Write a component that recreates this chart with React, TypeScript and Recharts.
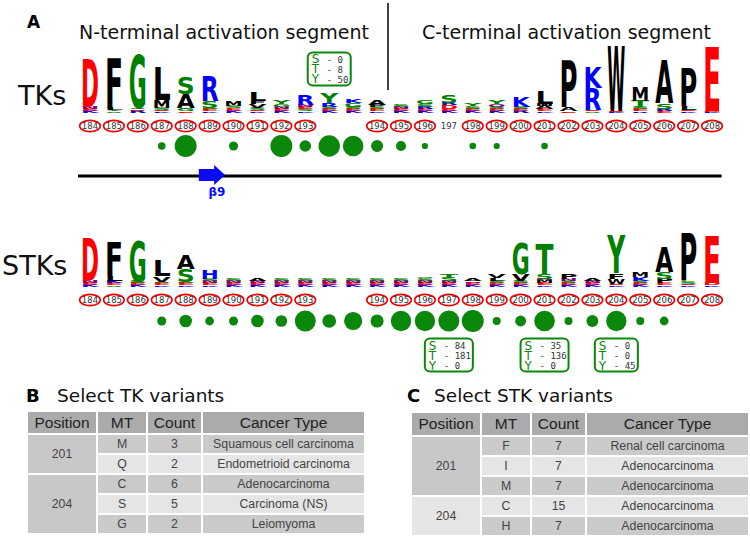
import React from "react";
import {
    Bar,
    ComposedChart,
    ReferenceArea,
    ReferenceDot,
    Scatter,
    ScatterChart,
    XAxis,
    YAxis,
    ZAxis
} from "recharts";

// alignment columns (two insertion columns sit between 193 and 194)
const positions = ["184", "185", "186", "187", "188", "189", "190", "191", "192", "193", "ins1", "ins2",
    "194", "195", "196", "197", "198", "199", "200", "201", "202", "203", "204", "205", "206", "207", "208"];

// logo stacks, bottom -> top, heights in bits
const tkLogo: [string, number][][] = [
    [["K", .12], ["E", .12], ["N", .12], ["D", 3.0]],
    [["S", .1], ["Y", .1], ["L", .12], ["F", 3.05]],
    [["R", .12], ["E", .1], ["S", .1], ["G", 3.25]],
    [["K", .1], ["E", .1], ["S", .12], ["M", .5], ["L", 2.0]],
    [["E", .1], ["G", .12], ["Y", .1], ["A", .85], ["S", 1.0]],
    [["K", .1], ["E", .12], ["G", .1], ["S", .4], ["R", 1.55]],
    [["K", .15], ["E", .15], ["S", .12], ["M", .3]],
    [["K", .1], ["E", .1], ["S", .12], ["V", .25], ["F", .15], ["L", .55]],
    [["K", .12], ["E", .15], ["N", .12], ["G", .15], ["Y", .2]],
    [["K", .1], ["S", .12], ["E", .12], ["N", .15], ["R", .65]],
    [["K", .12], ["E", .15], ["S", .12], ["R", .2], ["Y", .65]],
    [["K", .12], ["E", .15], ["S", .12], ["G", .2], ["K", .25]],
    [["K", .1], ["E", .12], ["S", .12], ["P", .15], ["A", .3]],
    [["K", .12], ["E", .12], ["N", .15], ["S", .12]],
    [["K", .12], ["E", .12], ["R", .15], ["S", .15], ["G", .25]],
    [["K", .12], ["E", .12], ["D", .25], ["R", .12], ["S", .45]],
    [["K", .12], ["E", .15], ["S", .15], ["Y", .12]],
    [["K", .12], ["E", .12], ["S", .15], ["Q", .15], ["Y", .25]],
    [["R", .12], ["E", .12], ["S", .15], ["K", .65]],
    [["K", .1], ["E", .12], ["A", .2], ["M", .15], ["L", .8]],
    [["E", .1], ["A", .25], ["P", 2.9]],
    [["S", .1], ["E", .1], ["R", 1.35], ["K", 1.25]],
    [["K", .05], ["E", .05], ["W", 4.0]],
    [["R", .1], ["E", .12], ["S", .15], ["T", .4], ["M", .9]],
    [["E", .12], ["R", .15], ["S", .35], ["A", 2.6]],
    [["K", .1], ["E", .1], ["L", .25], ["P", 2.3]],
    [["K", .05], ["D", .1], ["E", 3.95]],
];

const stkLogo: [string, number][][] = [
    [["K", .12], ["E", .12], ["N", .12], ["D", 2.65]],
    [["S", .1], ["E", .12], ["K", .12], ["L", .35], ["F", 2.05]],
    [["K", .12], ["E", .12], ["S", .12], ["G", 2.5]],
    [["K", .1], ["E", .12], ["S", .1], ["V", .35], ["L", .95]],
    [["K", .1], ["E", .12], ["G", .1], ["S", .8], ["A", .9]],
    [["K", .1], ["E", .12], ["N", .12], ["S", .15], ["H", .55]],
    [["K", .12], ["E", .15], ["N", .12], ["S", .15]],
    [["K", .12], ["E", .15], ["N", .12], ["A", .15]],
    [["K", .12], ["E", .15], ["N", .12], ["S", .15]],
    [["K", .12], ["E", .15], ["N", .12], ["S", .17]],
    [["K", .12], ["E", .15], ["N", .12], ["S", .15]],
    [["K", .12], ["E", .15], ["N", .12], ["S", .12]],
    [["K", .12], ["E", .12], ["N", .12], ["S", .12]],
    [["K", .12], ["E", .15], ["N", .12], ["S", .15]],
    [["K", .12], ["E", .15], ["N", .12], ["S", .15], ["G", .1]],
    [["K", .12], ["E", .12], ["N", .12], ["S", .2], ["T", .25]],
    [["K", .12], ["E", .15], ["N", .1], ["A", .15]],
    [["K", .12], ["E", .12], ["S", .15], ["L", .15], ["V", .2]],
    [["K", .12], ["E", .12], ["S", .15], ["V", .4], ["G", 1.9]],
    [["K", .1], ["E", .12], ["M", .2], ["N", .1], ["S", .3], ["T", 1.8]],
    [["K", .12], ["E", .12], ["S", .12], ["N", .15], ["P", .35]],
    [["K", .12], ["E", .12], ["N", .12], ["A", .12]],
    [["K", .1], ["E", .1], ["W", .3], ["F", .35], ["Y", 2.35]],
    [["K", .12], ["E", .12], ["S", .15], ["K", .2], ["M", .3]],
    [["K", .1], ["E", .12], ["P", .3], ["S", .4], ["A", 1.55]],
    [["K", .1], ["E", .1], ["S", .15], ["P", 2.95]],
    [["K", .1], ["D", .15], ["E", 2.9]],
];

const tkCircled = positions.filter(p => !p.startsWith("ins") && p !== "197");
const stkCircled = positions.filter(p => !p.startsWith("ins"));

// variant counts per column (dot area)
const tkDotPos = ["187", "188", "190", "192", "193", "ins1", "ins2", "194", "195", "196", "198", "199", "201"];
const tkDotN = [12, 100, 17, 100, 28, 95, 88, 30, 21, 8, 9, 8, 9];
const stkDotPos = ["187", "188", "189", "190", "191", "192", "193", "ins1", "ins2", "194", "195", "196", "197",
    "198", "199", "200", "201", "202", "203", "204", "205", "206"];
const stkDotN = [19, 37, 18, 19, 37, 32, 103, 44, 77, 40, 97, 97, 104, 113, 15, 28, 100, 15, 33, 97, 15, 18];

// phospho-site residue counts
const tkSites = [{pos: "ins1", S: 0, T: 8, Y: 50}];
const stkSites = [
    {pos: "197", S: 84, T: 181, Y: 0},
    {pos: "201", S: 35, T: 136, Y: 0},
    {pos: "204", S: 0, T: 0, Y: 45},
];

// secondary structure, in column units
const strands = [{name: "β9", from: 4.55, to: 5.65}];

const tkVariants = [
    {pos: "201", mt: "M", count: 3, cancer: "Squamous cell carcinoma"},
    {pos: "201", mt: "Q", count: 2, cancer: "Endometrioid carcinoma"},
    {pos: "204", mt: "C", count: 6, cancer: "Adenocarcinoma"},
    {pos: "204", mt: "S", count: 5, cancer: "Carcinoma (NS)"},
    {pos: "204", mt: "G", count: 2, cancer: "Leiomyoma"},
];
const stkVariants = [
    {pos: "201", mt: "F", count: 7, cancer: "Renal cell carcinoma"},
    {pos: "201", mt: "I", count: 7, cancer: "Adenocarcinoma"},
    {pos: "201", mt: "M", count: 7, cancer: "Adenocarcinoma"},
    {pos: "204", mt: "C", count: 15, cancer: "Adenocarcinoma"},
    {pos: "204", mt: "H", count: 7, cancer: "Adenocarcinoma"},
];

const LAYERS = [0, 1, 2, 3, 4, 5];
const GREEN = "#0b870b";
const SANS = "'DejaVu Sans', sans-serif";

const letterColor = (a: string) =>
    "DE".includes(a) ? "#ff0000" :
        "KRH".includes(a) ? "#0000ff" :
            "GSTYC".includes(a) ? "#008000" :
                "NQ".includes(a) ? "#800080" : "#000000";

const toRows = (logo: [string, number][][]) => positions.map((pos, i) => {
    const row: any = {pos};
    LAYERS.forEach(k => {
        row[`h${k}`] = logo[i][k] ? logo[i][k][1] : 0;
        row[`a${k}`] = logo[i][k] ? logo[i][k][0] : null;
    });
    return row;
});

const letterShape = (k: number) => (props: any) => {
    const {x, y, width, height, payload} = props;
    const a = payload && payload[`a${k}`];
    if (!a || !(height > 0)) return <g/>;
    const fs = 20;
    return <text x={0} y={0} fontSize={fs} fontFamily={SANS} fontWeight="bold" fill={letterColor(a)}
                 textLength={width} lengthAdjust="spacingAndGlyphs"
                 transform={`translate(${x},${y + height}) scale(1,${height / (fs * 0.729)})`}>{a}</text>;
};

const PosTick = ({x, y, payload, circled}: any) => {
    const v = payload.value as string;
    if (v.startsWith("ins")) return <g/>;
    const cy = y + 13;
    return <g>
        {circled.includes(v) && <ellipse cx={x} cy={cy} rx={10.3} ry={5.6} fill="#fff" stroke="#ee0000" strokeWidth={1.6}/>}
        <text x={x} y={cy} textAnchor="middle" dominantBaseline="central" fontSize={8.5} fontFamily={SANS}
              fill="#333">{v}</text>
    </g>;
};

const siteBox = (site: any) => (props: any) => {
    const {cx, cy} = props;
    const rows: [string, number][] = [["S", site.S], ["T", site.T], ["Y", site.Y]];
    const digits = Math.max(...rows.map(r => String(r[1]).length));
    const w = 33 + 5 * digits, h = 33;
    const left = cx - w / 2, top = cy - h / 2;
    return <g>
        <rect x={left} y={top} width={w} height={h} rx={5} fill="#fff" stroke={GREEN} strokeWidth={2}/>
        {rows.map((r, i) => <g key={r[0]}>
            <text x={left + 4} y={top + 7 + i * 10} dominantBaseline="central" fontSize={12} fontFamily={SANS}
                  fill={GREEN}>{r[0]}</text>
            <text x={left + 19} y={top + 7.5 + i * 10} dominantBaseline="central" fontSize={9}
                  fontFamily="'DejaVu Sans Mono', monospace" fill="#333">{`- ${r[1]}`}</text>
        </g>)}
    </g>;
};

const arrowShape = (name: string) => (p: any) => {
    const {x, y, width, height} = p;
    const mid = y + height / 2, head = 11, bw = 6;
    const pts = [[x, mid - bw], [x + width - head, mid - bw], [x + width - head, y], [x + width, mid],
        [x + width - head, y + height], [x + width - head, mid + bw], [x, mid + bw]];
    return <g>
        <polygon points={pts.map(q => q.join(",")).join(" ")} fill="#0a0aff"/>
        <text x={x + width / 2 + 5} y={y + height + 7} textAnchor="middle" dominantBaseline="central"
              fontSize={12} fontWeight="bold" fontFamily={SANS} fill="#0a0aff">{name}</text>
    </g>;
};

// chart svg starts 30px above the plot so tall glyphs stay inside it
const LogoChart = ({top, logo, circled, sites}: any) => <div style={{position: "absolute", left: 0, top: top - 30}}>
    <ComposedChart width={750} height={130} data={toRows(logo)} margin={{top: 30, right: 26, bottom: 0, left: 78}}>
        <XAxis dataKey="pos" interval={0} tickLine={false} axisLine={false} tickSize={0} tickMargin={0} height={30}
               tick={(p: any) => <PosTick {...p} circled={circled}/>}/>
        <YAxis domain={[0, 4.32]} hide allowDataOverflow/>
        {LAYERS.map(k => <Bar key={k} dataKey={`h${k}`} stackId="logo" barSize={18} shape={letterShape(k)}
                              isAnimationActive={false}/>)}
        {sites.map((s: any) => <ReferenceDot key={s.pos} x={s.pos} y={2.72} shape={siteBox(s)}/>)}
    </ComposedChart>
</div>;

const DotsChart = ({top, dotPos, dotN, sites, showStrands}: any) => {
    const dots = dotPos.map((p: string, i: number) => ({x: positions.indexOf(p), y: 0, n: dotN[i]}));
    return <div style={{position: "absolute", left: 0, top}}>
        <ScatterChart width={750} height={75} margin={{top: 0, right: 26, bottom: 0, left: 78}}>
            <XAxis type="number" dataKey="x" domain={[-0.5, 26.5]} hide/>
            <YAxis type="number" dataKey="y" domain={[-4, 1]} hide/>
            <ZAxis type="number" dataKey="n" domain={[0, 100]} range={[0, 380]}/>
            {showStrands && <ReferenceArea x1={-0.5} x2={26.4} y1={-2.1} y2={-1.9} fill="#000" fillOpacity={1}/>}
            {showStrands && strands.map(s => <ReferenceArea key={s.name} x1={s.from} x2={s.to} y1={-2.6} y2={-1.27}
                                                             shape={arrowShape(s.name)}/>)}
            <Scatter data={dots} fill={GREEN} isAnimationActive={false}/>
            {sites.map((s: any) => <ReferenceDot key={s.pos} x={positions.indexOf(s.pos)} y={-2.27}
                                                 shape={siteBox(s)}/>)}
        </ScatterChart>
    </div>;
};

const VariantTable = ({left, top, rows, headH, posColors}: any) => {
    const cell: any = {padding: 0, textAlign: "center", color: "#444", fontSize: 12.3, height: 18, lineHeight: "18px"};
    const head: any = {...cell, background: "#ababab", color: "#222", fontSize: 15.5, fontWeight: "normal",
        height: headH, lineHeight: `${headH}px`};
    const groups = rows.map((r: any) => r.pos).filter((p: string, i: number, a: string[]) => a.indexOf(p) === i);
    return <table style={{position: "absolute", left: left - 2, top: top - 2, borderCollapse: "separate", borderSpacing: 2,
        fontFamily: "'Liberation Sans', Arial, sans-serif", tableLayout: "fixed"}}>
        <colgroup>
            <col style={{width: 68}}/>
            <col style={{width: 48}}/>
            <col style={{width: 53}}/>
            <col style={{width: 161}}/>
        </colgroup>
        <thead>
        <tr>
            <th style={head}>Position</th>
            <th style={head}>MT</th>
            <th style={head}>Count</th>
            <th style={head}>Cancer Type</th>
        </tr>
        </thead>
        <tbody>
        {rows.map((r: any, i: number) => {
            const bg = i % 2 === 0 ? "#cacaca" : "#e5e5e5";
            const first = rows.findIndex((q: any) => q.pos === r.pos) === i;
            const span = rows.filter((q: any) => q.pos === r.pos).length;
            return <tr key={i}>
                {first && <td rowSpan={span} style={{...cell, background: posColors[groups.indexOf(r.pos)]}}>{r.pos}</td>}
                <td style={{...cell, background: bg}}>{r.mt}</td>
                <td style={{...cell, background: bg}}>{r.count}</td>
                <td style={{...cell, background: bg}}>{r.cancer}</td>
            </tr>;
        })}
        </tbody>
    </table>;
};

const App = () => <div style={{position: "absolute", left: 0, top: 0, width: 750, height: 541, background: "#fff",
    fontFamily: SANS, overflow: "hidden"}}>
    <svg width={750} height={541} style={{position: "absolute", left: 0, top: 0}}>
        <text x={27} y={28} fontSize={17} fontWeight="bold" fontFamily={SANS}>A</text>
        <text x={79} y={39} fontSize={19} fontFamily={SANS} fill="#111">N-terminal activation segment</text>
        <text x={422} y={39} fontSize={19} fontFamily={SANS} fill="#111">C-terminal activation segment</text>
        <line x1={388} x2={388} y1={3} y2={90} stroke="#000" strokeWidth={1.5}/>
        <text x={18} y={105} fontSize={27} fontFamily={SANS} fill="#111">TKs</text>
        <text x={2} y={275} fontSize={27} fontFamily={SANS} fill="#111">STKs</text>
        <text x={26} y={402} fontSize={18} fontWeight="bold" fontFamily={SANS}>B</text>
        <text x={57} y={402} fontSize={18.5} fontFamily={SANS} fill="#111">Select TK variants</text>
        <text x={407} y={402} fontSize={18} fontWeight="bold" fontFamily={SANS}>C</text>
        <text x={434} y={402} fontSize={18.5} fontFamily={SANS} fill="#111">Select STK variants</text>
    </svg>
    <LogoChart top={43} logo={tkLogo} circled={tkCircled} sites={tkSites}/>
    <DotsChart top={131} dotPos={tkDotPos} dotN={tkDotN} sites={[]} showStrands/>
    <LogoChart top={217} logo={stkLogo} circled={stkCircled} sites={[]}/>
    <DotsChart top={306} dotPos={stkDotPos} dotN={stkDotN} sites={stkSites} showStrands={false}/>
    <VariantTable left={28} top={412} rows={tkVariants} headH={21} posColors={["#c8c8c8", "#c8c8c8"]}/>
    <VariantTable left={412} top={413} rows={stkVariants} headH={22} posColors={["#c8c8c8", "#e5e5e5"]}/>
</div>;

export default App;
